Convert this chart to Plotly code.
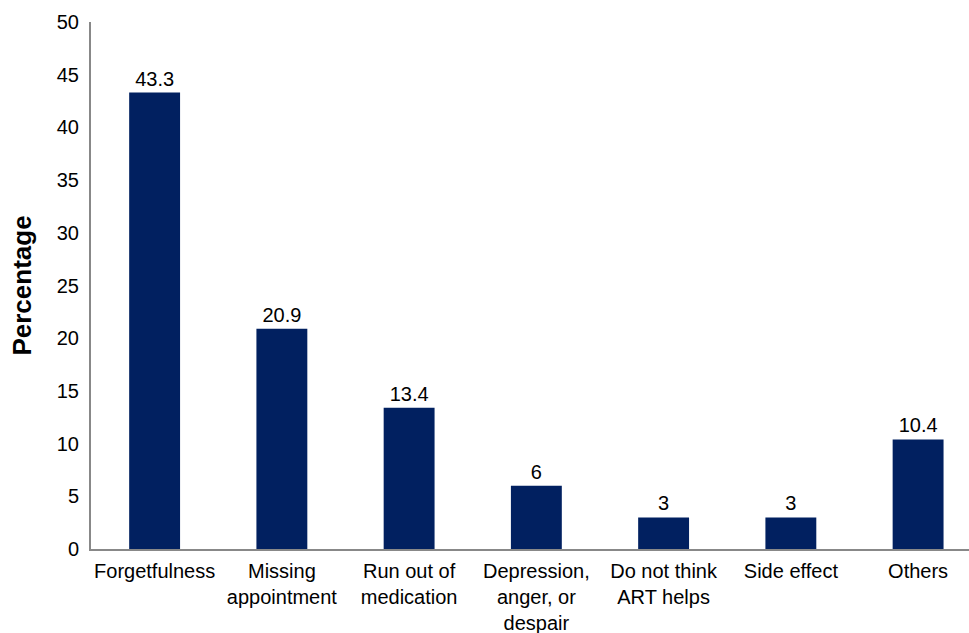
import plotly.graph_objects as go

categories = ["Forgetfulness", "Missing<br>appointment", "Run out of<br>medication",
              "Depression,<br>anger, or<br>despair", "Do not think<br>ART helps",
              "Side effect", "Others"]
values = [43.3, 20.9, 13.4, 6, 3, 3, 10.4]
value_labels = ["43.3", "20.9", "13.4", "6", "3", "3", "10.4"]
y_ticks = [0, 5, 10, 15, 20, 25, 30, 35, 40, 45, 50]

fig = go.Figure(go.Bar(
    x=categories, y=values, text=value_labels, textposition="outside",
    textfont=dict(size=20, color="#000000", family="Liberation Sans, Arial"),
    marker=dict(color="#012060", line=dict(width=0)),
    cliponaxis=False,
))

fig.update_layout(
    width=969, height=633,
    margin=dict(l=91, r=0, t=22, b=84),
    paper_bgcolor="white", plot_bgcolor="white",
    bargap=0.6,
    font=dict(family="Liberation Sans, Arial", size=20, color="#000000"),
    showlegend=False,
)
fig.update_xaxes(showline=True, linecolor="#888888", linewidth=2,
                 range=[-0.5, 6.4], ticks="", showgrid=False,
                 tickfont=dict(size=20), ticklabelstandoff=3)
fig.update_yaxes(range=[0, 50], tickvals=y_ticks, showline=True,
                 linecolor="#888888", linewidth=2, ticks="", showgrid=False,
                 zeroline=False, tickfont=dict(size=20), ticklabelstandoff=6,
                 title=dict(text="<b>Percentage</b>", font=dict(size=26), standoff=18))

fig.write_html("out.html")
